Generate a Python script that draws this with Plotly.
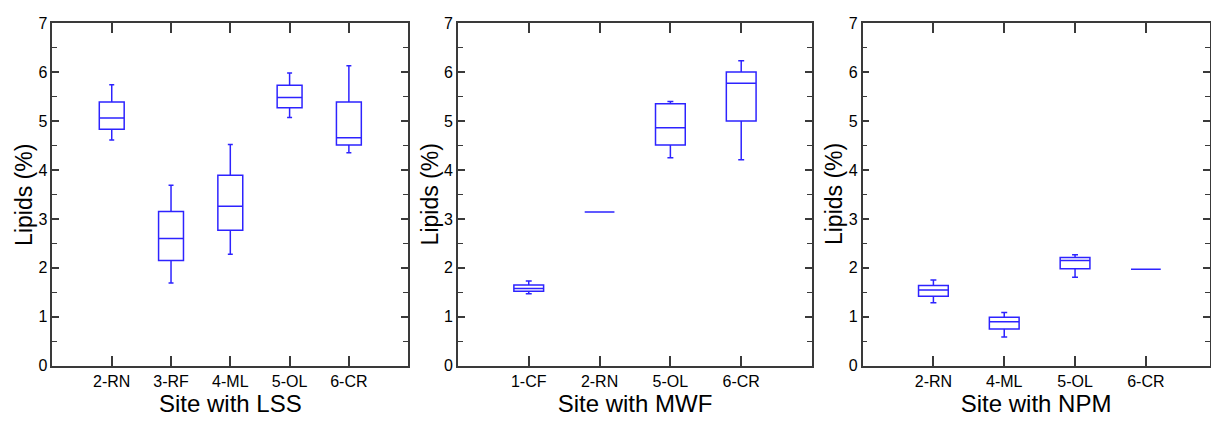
import plotly.graph_objects as go

# Lipid content (%) by site, summarised as box statistics
lss_sites = ["2-RN", "3-RF", "4-ML", "5-OL", "6-CR"]
lss_low = [4.61, 1.69, 2.28, 5.07, 4.35]
lss_q1 = [4.83, 2.15, 2.77, 5.27, 4.51]
lss_med = [5.06, 2.60, 3.26, 5.48, 4.66]
lss_q3 = [5.39, 3.15, 3.89, 5.73, 5.39]
lss_high = [5.74, 3.69, 4.52, 5.98, 6.13]

mwf_sites = ["1-CF", "2-RN", "5-OL", "6-CR"]
mwf_low = [1.47, 3.14, 4.25, 4.21]
mwf_q1 = [1.52, 3.14, 4.51, 5.00]
mwf_med = [1.58, 3.14, 4.86, 5.77]
mwf_q3 = [1.65, 3.14, 5.35, 6.00]
mwf_high = [1.73, 3.14, 5.40, 6.23]

npm_sites = ["2-RN", "4-ML", "5-OL", "6-CR"]
npm_low = [1.29, 0.59, 1.81, 1.97]
npm_q1 = [1.42, 0.75, 1.98, 1.97]
npm_med = [1.55, 0.90, 2.15, 1.97]
npm_q3 = [1.64, 0.99, 2.21, 1.97]
npm_high = [1.75, 1.09, 2.27, 1.97]

y_ticks = [0, 1, 2, 3, 4, 5, 6, 7]

W, H = 1211, 425
BOX_COLOR = "rgb(45,35,255)"
AXIS_COLOR = "#3a3a3a"
FONT = "Liberation Sans, Arial, sans-serif"

panels = [
    dict(sites=lss_sites, low=lss_low, q1=lss_q1, med=lss_med, q3=lss_q3, high=lss_high,
         title="Site with LSS", x0=52.5, x1=408.5, xmax=len(lss_sites)),
    dict(sites=mwf_sites, low=mwf_low, q1=mwf_q1, med=mwf_med, q3=mwf_q3, high=mwf_high,
         title="Site with MWF", x0=458.3, x1=812.7, xmax=len(mwf_sites)),
    dict(sites=npm_sites, low=npm_low, q1=npm_q1, med=npm_med, q3=npm_q3, high=npm_high,
         title="Site with NPM", x0=863.3, x1=1210.5, xmax=None),
]

y_top, y_bot = 15.7, 372.7
ydom = [(H - y_bot) / H, (H - y_top) / H]

fig = go.Figure()
layout = dict(
    width=W, height=H,
    margin=dict(l=0, r=0, t=0, b=0),
    paper_bgcolor="white", plot_bgcolor="white",
    showlegend=False,
    font=dict(family=FONT, color="black"),
    annotations=[],
)

for i, p in enumerate(panels):
    n = i + 1
    xname = "x" if n == 1 else f"x{n}"
    yname = "y" if n == 1 else f"y{n}"
    fig.add_trace(go.Box(
        x=p["sites"], q1=p["q1"], median=p["med"], q3=p["q3"],
        lowerfence=p["low"], upperfence=p["high"],
        width=0.42, whiskerwidth=0.2,
        line=dict(color=BOX_COLOR, width=1.5),
        fillcolor="rgba(0,0,0,0)",
        boxpoints=False, hoverinfo="skip",
        xaxis=xname, yaxis=yname,
    ))
    if p["xmax"] is not None:
        xr = [-1, p["xmax"]]
    else:
        # last panel: same unit width as the middle panel, trimmed at the page edge
        unit = (panels[1]["x1"] - panels[1]["x0"]) / (len(mwf_sites) + 1)
        xr = [-1, -1 + (p["x1"] - p["x0"]) / unit]
    layout["xaxis" if n == 1 else f"xaxis{n}"] = dict(
        domain=[p["x0"] / W, p["x1"] / W],
        anchor=yname, type="category", range=xr,
        showline=True, linecolor=AXIS_COLOR, linewidth=1.5, mirror="allticks",
        ticks="inside", ticklen=10, tickwidth=1.5, tickcolor=AXIS_COLOR,
        tickfont=dict(size=16, family=FONT, color="black"),
        showgrid=False, zeroline=False, fixedrange=True,
        title=dict(text=p["title"], font=dict(size=24, family=FONT, color="black"), standoff=4),
    )
    layout["yaxis" if n == 1 else f"yaxis{n}"] = dict(
        domain=ydom, anchor=xname, range=[0, 7],
        tickvals=y_ticks, ticktext=[str(v) for v in y_ticks],
        showline=True, linecolor=AXIS_COLOR, linewidth=1.5, mirror="allticks",
        ticks="inside", ticklen=7, tickwidth=1.5, tickcolor=AXIS_COLOR,
        minor=dict(dtick=0.5, ticks="inside", ticklen=5, tickwidth=1.2, tickcolor=AXIS_COLOR),
        tickfont=dict(size=16, family=FONT, color="black"),
        showgrid=False, zeroline=False, fixedrange=True,
    )
    layout["annotations"].append(dict(
        text="Lipids (%)", textangle=-90, showarrow=False,
        xref="paper", yref="paper",
        x=(p["x0"] - 28) / W, y=(ydom[0] + ydom[1]) / 2,
        xanchor="center", yanchor="middle",
        font=dict(size=23, family=FONT, color="black"),
    ))

fig.update_layout(**layout)
fig.write_html("out.html", config={"displayModeBar": False})
